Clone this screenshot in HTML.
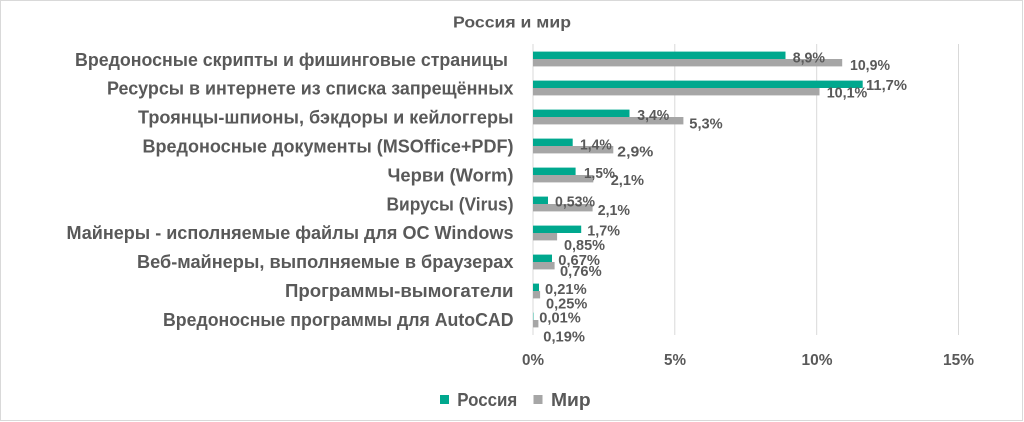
<!DOCTYPE html>
<html>
<head>
<meta charset="utf-8">
<style>
html,body{margin:0;padding:0;background:#fff;}
svg{display:block;}
text{font-family:"Liberation Sans","DejaVu Sans",sans-serif;font-weight:bold;fill:#595959;}
</style>
</head>
<body>
<svg width="1024" height="422" viewBox="0 0 1024 422" xmlns="http://www.w3.org/2000/svg">
<rect x="0.5" y="0.5" width="1022" height="420" fill="#fff" stroke="#d9d9d9" stroke-width="1"/>
<text x="453" y="27.3" font-size="16" textLength="118" lengthAdjust="spacingAndGlyphs">Россия и мир</text>

<!-- gridlines -->
<g stroke="#d9d9d9" stroke-width="1">
<line x1="533" y1="44" x2="533" y2="335"/>
<line x1="674.8" y1="44" x2="674.8" y2="335"/>
<line x1="816.7" y1="44" x2="816.7" y2="335"/>
<line x1="958.5" y1="44" x2="958.5" y2="335"/>
</g>

<!-- category labels -->
<g font-size="18" text-anchor="end">
<text x="508" y="65.8" textLength="433" lengthAdjust="spacingAndGlyphs">Вредоносные скрипты и фишинговые страницы</text>
<text x="513.5" y="94.5" textLength="406.5" lengthAdjust="spacingAndGlyphs">Ресурсы в интернете из списка запрещённых</text>
<text x="513.5" y="123.3" textLength="375.5" lengthAdjust="spacingAndGlyphs">Троянцы-шпионы, бэкдоры и кейлоггеры</text>
<text x="513.5" y="152.3" textLength="371" lengthAdjust="spacingAndGlyphs">Вредоносные документы (MSOffice+PDF)</text>
<text x="513.5" y="181.3" textLength="126" lengthAdjust="spacingAndGlyphs">Черви (Worm)</text>
<text x="513.5" y="210.3" textLength="127" lengthAdjust="spacingAndGlyphs">Вирусы (Virus)</text>
<text x="513.5" y="238.8" textLength="447" lengthAdjust="spacingAndGlyphs">Майнеры - исполняемые файлы для ОС Windows</text>
<text x="513.5" y="268" textLength="376.5" lengthAdjust="spacingAndGlyphs">Веб-майнеры, выполняемые в браузерах</text>
<text x="513.5" y="297" textLength="228.5" lengthAdjust="spacingAndGlyphs">Программы-вымогатели</text>
<text x="513.5" y="326" textLength="350.5" lengthAdjust="spacingAndGlyphs">Вредоносные программы для AutoCAD</text>
</g>

<!-- bars: green = Россия, gray = Мир -->
<g fill="#00a88e">
<rect x="533" y="51.6" width="252.5" height="7.4"/>
<rect x="533" y="80.6" width="329.7" height="7.4"/>
<rect x="533" y="109.6" width="96.5" height="7.4"/>
<rect x="533" y="138.6" width="39.7" height="7.4"/>
<rect x="533" y="167.6" width="42.6" height="7.4"/>
<rect x="533" y="196.6" width="15" height="7.4"/>
<rect x="533" y="225.6" width="48.2" height="7.4"/>
<rect x="533" y="254.6" width="19" height="7.4"/>
<rect x="533" y="283.6" width="6" height="7.4"/>
<rect x="533" y="312.6" width="0.4" height="7.4"/>
</g>
<g fill="#a6a6a6">
<rect x="533" y="59" width="309.2" height="7.4"/>
<rect x="533" y="88" width="286.5" height="7.4"/>
<rect x="533" y="117" width="150.4" height="7.4"/>
<rect x="533" y="146" width="80.3" height="7.4"/>
<rect x="533" y="175" width="60.3" height="7.4"/>
<rect x="533" y="204" width="59.6" height="7.4"/>
<rect x="533" y="233" width="24.1" height="7.4"/>
<rect x="533" y="262" width="21.6" height="7.4"/>
<rect x="533" y="291" width="7.1" height="7.4"/>
<rect x="533" y="320" width="5.4" height="7.4"/>
</g>

<!-- data labels -->
<g font-size="15">
<text x="792.7" y="62.7" textLength="32.3" lengthAdjust="spacingAndGlyphs">8,9%</text>
<text x="850" y="70" textLength="40" lengthAdjust="spacingAndGlyphs">10,9%</text>
<text x="866" y="90" textLength="41" lengthAdjust="spacingAndGlyphs">11,7%</text>
<text x="826.7" y="97.3" textLength="40.6" lengthAdjust="spacingAndGlyphs">10,1%</text>
<text x="637.3" y="120" textLength="32" lengthAdjust="spacingAndGlyphs">3,4%</text>
<text x="689.3" y="128.3" textLength="33.4" lengthAdjust="spacingAndGlyphs">5,3%</text>
<text x="580" y="149.3" textLength="31.7" lengthAdjust="spacingAndGlyphs">1,4%</text>
<text x="617.3" y="156.7" textLength="36" lengthAdjust="spacingAndGlyphs">2,9%</text>
<text x="584" y="178" textLength="31" lengthAdjust="spacingAndGlyphs">1,5%</text>
<text x="610.7" y="185" textLength="33.3" lengthAdjust="spacingAndGlyphs">2,1%</text>
<text x="555" y="206.7" textLength="40" lengthAdjust="spacingAndGlyphs">0,53%</text>
<text x="597.7" y="215" textLength="32.3" lengthAdjust="spacingAndGlyphs">2,1%</text>
<text x="587.3" y="235.7" textLength="32.7" lengthAdjust="spacingAndGlyphs">1,7%</text>
<text x="564" y="250" textLength="41" lengthAdjust="spacingAndGlyphs">0,85%</text>
<text x="558.3" y="265" textLength="41.7" lengthAdjust="spacingAndGlyphs">0,67%</text>
<text x="560" y="276" textLength="41.7" lengthAdjust="spacingAndGlyphs">0,76%</text>
<text x="545" y="294" textLength="41.7" lengthAdjust="spacingAndGlyphs">0,21%</text>
<text x="546" y="308.3" textLength="41.3" lengthAdjust="spacingAndGlyphs">0,25%</text>
<text x="539.3" y="322.7" textLength="41.4" lengthAdjust="spacingAndGlyphs">0,01%</text>
<text x="543.3" y="341.7" textLength="41.7" lengthAdjust="spacingAndGlyphs">0,19%</text>
</g>

<!-- axis tick labels -->
<g font-size="16" text-anchor="middle">
<text x="533" y="365" textLength="22" lengthAdjust="spacingAndGlyphs">0%</text>
<text x="675" y="365" textLength="22" lengthAdjust="spacingAndGlyphs">5%</text>
<text x="817" y="365" textLength="31" lengthAdjust="spacingAndGlyphs">10%</text>
<text x="958.5" y="365" textLength="31" lengthAdjust="spacingAndGlyphs">15%</text>
</g>

<!-- legend -->
<rect x="440" y="395" width="9" height="9" fill="#00a88e"/>
<text x="457.3" y="406" font-size="18" textLength="60" lengthAdjust="spacingAndGlyphs">Россия</text>
<rect x="533.5" y="395" width="9" height="9" fill="#a6a6a6"/>
<text x="551" y="406" font-size="18" textLength="39.7" lengthAdjust="spacingAndGlyphs">Мир</text>
</svg>
</body>
</html>
